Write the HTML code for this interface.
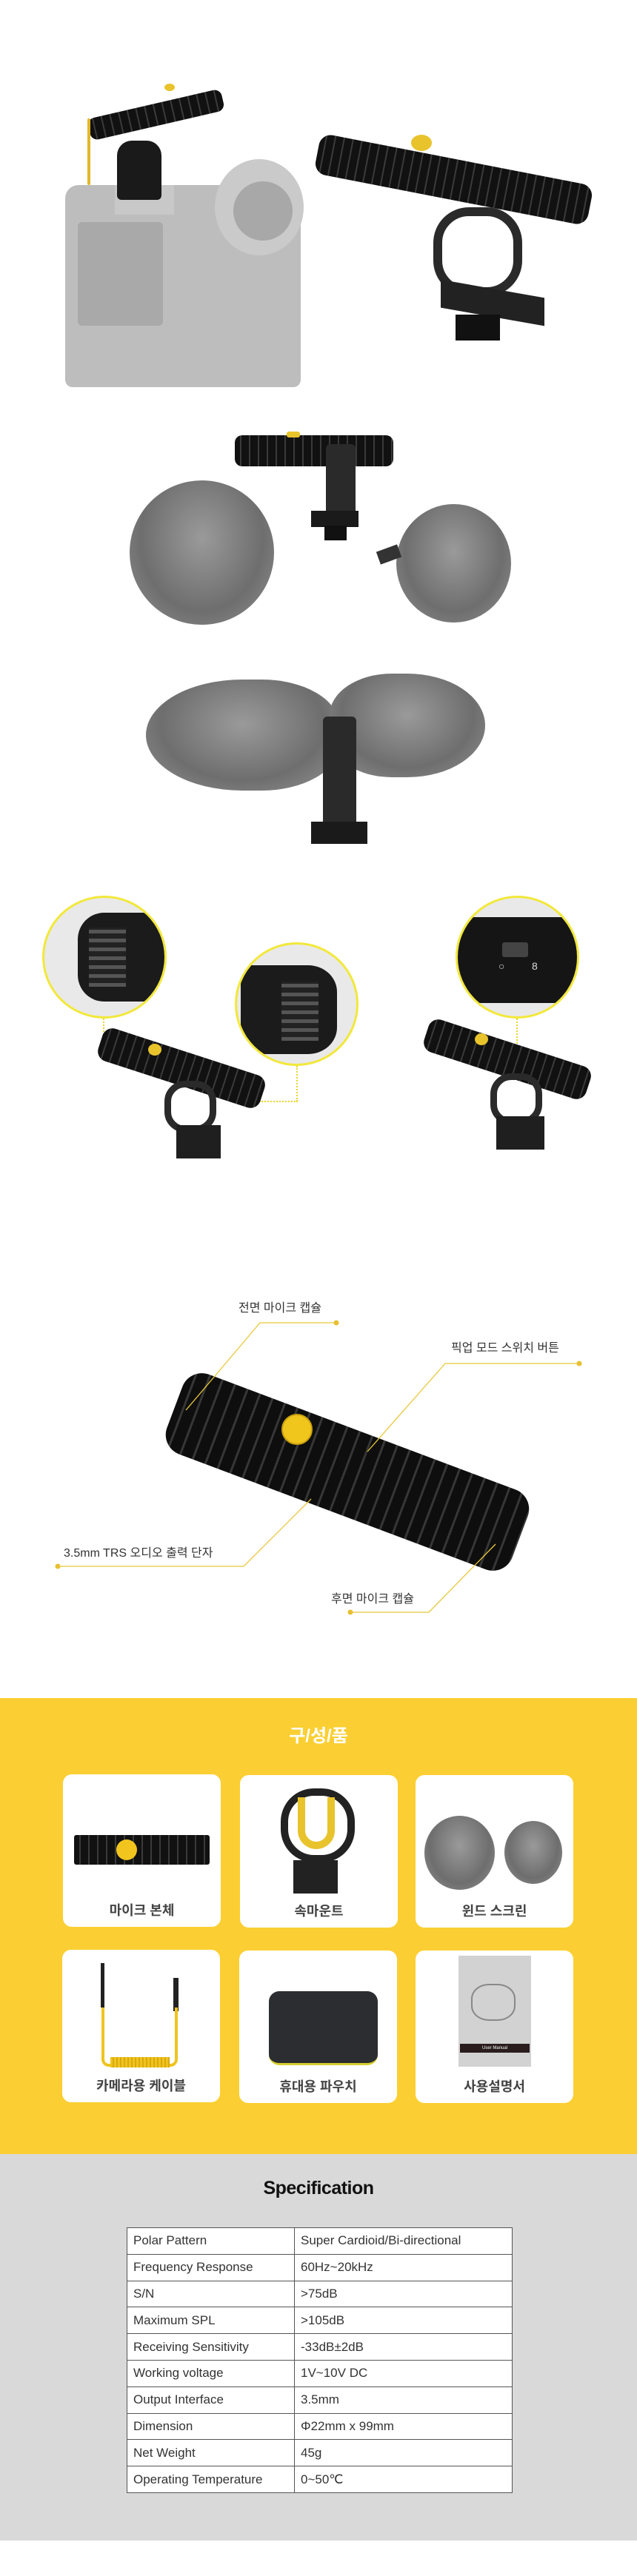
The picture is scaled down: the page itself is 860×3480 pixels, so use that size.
<!DOCTYPE html>
<html><head><meta charset="utf-8"><style>
*{margin:0;padding:0;box-sizing:border-box}
body{width:860px;height:3480px;background:#fff;position:relative;overflow:hidden;font-family:"Liberation Sans","Noto Sans CJK KR",sans-serif}
.a{position:absolute}
.tube{position:absolute;border-radius:10px;background:repeating-linear-gradient(90deg,#111 0 7px,#3a3a3a 7px 9px,#111 9px 12px);}
.fur{position:absolute;border-radius:50%;background:radial-gradient(ellipse at 50% 40%,#9a9a9a,#6e6e6e 60%,#8a8a8a 90%,rgba(150,150,150,0) 100%)}
.circ{position:absolute;border-radius:50%;border:3px solid #f2e83a;background:#e9e9e9;overflow:hidden}
.lbl{position:absolute;font-size:16px;color:#333;white-space:nowrap}
.card{position:absolute;background:#fff;border-radius:12px;width:213px;height:206px}
.card .t{position:absolute;left:0;right:0;bottom:10px;text-align:center;font-size:18px;font-weight:bold;color:#444}
table{border-collapse:collapse;position:absolute;left:171px;top:3009px;width:521px;background:#fff}
td{border:1.5px solid #555;height:35.8px;font-size:17px;color:#333;padding:0 8px;font-family:"Liberation Sans Narrow","Liberation Sans",sans-serif}
td:first-child{width:226px}
</style></head><body>

<!-- Section 1 camera + mic -->
<div class="a" style="left:88px;top:250px;width:318px;height:273px;background:#bdbdbd;border-radius:18px 40px 10px 10px"></div>
<div class="a" style="left:105px;top:300px;width:115px;height:140px;background:#a9a9a9;border-radius:6px"></div>
<div class="a" style="left:290px;top:215px;width:120px;height:130px;background:#cacaca;border-radius:50%"></div>
<div class="a" style="left:315px;top:245px;width:80px;height:80px;background:#a8a8a8;border-radius:50%"></div>
<div class="a" style="left:155px;top:250px;width:80px;height:40px;background:#c8c8c8"></div>
<div class="a" style="left:158px;top:190px;width:60px;height:80px;background:#1a1a1a;border-radius:20px 20px 6px 6px"></div>
<div class="tube" style="left:118px;top:140px;width:185px;height:30px;transform:rotate(-13deg)"></div>
<div class="a" style="left:118px;top:160px;width:4px;height:90px;background:#e2b82a;border-radius:2px"></div>
<div class="a" style="left:222px;top:113px;width:14px;height:10px;background:#e8c32c;border-radius:50%"></div>

<!-- right mic -->
<div class="tube" style="left:425px;top:215px;width:375px;height:55px;transform:rotate(11deg);border-radius:16px"></div>
<div class="a" style="left:555px;top:182px;width:28px;height:22px;background:#e8c32c;border-radius:50%"></div>
<div class="a" style="left:585px;top:280px;width:120px;height:120px;border:12px solid #2a2a2a;border-radius:40%"></div>
<div class="a" style="left:595px;top:390px;width:140px;height:38px;background:#222;transform:skewY(10deg)"></div>
<div class="a" style="left:615px;top:425px;width:60px;height:35px;background:#111"></div>

<!-- Section 2 mic + furs -->
<div class="tube" style="left:317px;top:588px;width:214px;height:42px"></div>
<div class="a" style="left:387px;top:583px;width:18px;height:8px;background:#e8c32c;border-radius:3px"></div>
<div class="a" style="left:440px;top:600px;width:40px;height:100px;background:#2a2a2a;border-radius:6px"></div>
<div class="a" style="left:420px;top:690px;width:64px;height:22px;background:#1a1a1a"></div>
<div class="a" style="left:438px;top:710px;width:30px;height:20px;background:#111"></div>
<div class="fur" style="left:175px;top:649px;width:195px;height:195px"></div>
<div class="fur" style="left:535px;top:681px;width:155px;height:160px"></div>
<div class="a" style="left:510px;top:740px;width:30px;height:18px;background:#333;transform:rotate(-20deg)"></div>

<!-- Section 3 dead cat -->
<div class="fur" style="left:197px;top:918px;width:260px;height:150px;border-radius:50% 40% 40% 50%"></div>
<div class="fur" style="left:445px;top:910px;width:210px;height:140px;border-radius:40% 50% 50% 40%"></div>
<div class="a" style="left:436px;top:968px;width:45px;height:150px;background:#2a2a2a;border-radius:6px"></div>
<div class="a" style="left:420px;top:1110px;width:76px;height:30px;background:#1a1a1a"></div>

<!-- Section 4 circles -->
<div class="circ" style="left:57px;top:1210px;width:168px;height:166px"><div class="a" style="left:45px;top:20px;width:118px;height:120px;background:#1b1b1b;border-radius:30% 10% 10% 30%"></div><div class="a" style="left:60px;top:40px;width:50px;height:80px;background:repeating-linear-gradient(0deg,#555 0 5px,#222 5px 12px)"></div></div>
<div class="circ" style="left:317px;top:1273px;width:167px;height:167px"><div class="a" style="left:5px;top:28px;width:130px;height:120px;background:#1b1b1b;border-radius:10% 30% 30% 10%"></div><div class="a" style="left:60px;top:50px;width:50px;height:80px;background:repeating-linear-gradient(0deg,#555 0 5px,#222 5px 12px)"></div></div>
<div class="circ" style="left:615px;top:1210px;width:167px;height:166px"><div class="a" style="left:0;top:26px;width:167px;height:116px;background:#151515"></div><div class="a" style="left:60px;top:60px;width:35px;height:20px;background:#444;border-radius:3px"></div><div class="a" style="left:55px;top:84px;color:#ddd;font-size:14px">○</div><div class="a" style="left:100px;top:84px;color:#ddd;font-size:14px">8</div></div>
<div class="a" style="left:139px;top:1376px;border-left:2px dotted #e8d42a;height:30px"></div>
<div class="a" style="left:400px;top:1440px;border-left:2px dotted #e8d42a;height:48px"></div>
<div class="a" style="left:350px;top:1487px;border-top:2px dotted #e8d42a;width:52px"></div>
<div class="a" style="left:697px;top:1376px;border-left:2px dotted #e8d42a;height:42px"></div>
<div class="tube" style="left:130px;top:1420px;width:230px;height:46px;transform:rotate(18deg);border-radius:14px"></div>
<div class="a" style="left:200px;top:1410px;width:18px;height:16px;background:#e8c32c;border-radius:50%"></div>
<div class="a" style="left:222px;top:1460px;width:70px;height:70px;border:9px solid #2a2a2a;border-radius:40%"></div>
<div class="a" style="left:238px;top:1520px;width:60px;height:45px;background:#1f1f1f"></div>
<div class="tube" style="left:570px;top:1408px;width:230px;height:46px;transform:rotate(18deg);border-radius:14px"></div>
<div class="a" style="left:641px;top:1396px;width:18px;height:16px;background:#e8c32c;border-radius:50%"></div>
<div class="a" style="left:662px;top:1450px;width:70px;height:70px;border:9px solid #2a2a2a;border-radius:40%"></div>
<div class="a" style="left:670px;top:1508px;width:65px;height:45px;background:#1f1f1f"></div>

<!-- Section 5 labelled mic -->
<div class="tube" style="left:220px;top:1931px;width:498px;height:115px;transform:rotate(20.6deg);border-radius:28px;background:repeating-linear-gradient(90deg,#0e0e0e 0 10px,#363636 10px 13px,#0e0e0e 13px 18px)"></div>
<div class="a" style="left:380px;top:1910px;width:42px;height:42px;background:#f0c51c;border-radius:50%;border:2px solid #c9a010"></div>
<svg class="a" style="left:0;top:0" width="860" height="2300">
<g stroke="#e8c83a" stroke-width="1.3" fill="none">
<polyline points="454,1787 351,1787 251,1905"/>
<polyline points="782,1842 601,1842 496,1961"/>
<polyline points="78,2116 329,2116 420,2025"/>
<polyline points="473,2178 579,2178 669,2086"/>
</g>
<g fill="#e8c030"><circle cx="454" cy="1787" r="3.5"/><circle cx="782" cy="1842" r="3.5"/><circle cx="78" cy="2116" r="3.5"/><circle cx="473" cy="2178" r="3.5"/></g>
</svg>
<div class="lbl" style="left:322px;top:1753px">전면 마이크 캡슐</div>
<div class="lbl" style="left:609px;top:1807px">픽업 모드 스위치 버튼</div>
<div class="lbl" style="left:86px;top:2084px">3.5mm TRS 오디오 출력 단자</div>
<div class="lbl" style="left:447px;top:2146px">후면 마이크 캡슐</div>

<!-- Yellow components -->
<div class="a" style="left:0;top:2294px;width:860px;height:616px;background:#fbcf33"></div>
<div class="a" style="left:0;top:2325px;width:860px;text-align:center;font-size:24px;font-weight:bold;color:#fff">구/성/품</div>
<div class="card" style="left:85px;top:2397px"><div class="tube" style="left:15px;top:82px;width:183px;height:40px;border-radius:3px"></div><div class="a" style="left:72px;top:88px;width:28px;height:28px;background:#f2c51e;border-radius:50%"></div><div class="t">마이크 본체</div></div>
<div class="card" style="left:324px;top:2398px"><div class="a" style="left:55px;top:18px;width:100px;height:100px;border:10px solid #222;border-radius:45%"></div><div class="a" style="left:78px;top:30px;width:50px;height:70px;border:10px solid #e8c32c;border-top:none;border-radius:0 0 30px 30px"></div><div class="a" style="left:72px;top:115px;width:60px;height:45px;background:#222"></div><div class="t">속마운트</div></div>
<div class="card" style="left:561px;top:2398px"><div class="fur" style="left:12px;top:55px;width:95px;height:100px"></div><div class="fur" style="left:120px;top:62px;width:78px;height:85px"></div><div class="t">윈드 스크린</div></div>
<div class="card" style="left:84px;top:2634px"><div class="a" style="left:52px;top:18px;width:5px;height:60px;background:#222"></div><div class="a" style="left:150px;top:38px;width:7px;height:45px;background:#222"></div><div class="a" style="left:53px;top:78px;width:103px;height:80px;border:4px solid #f0c41e;border-top:none;border-radius:0 0 10px 10px"></div><div class="a" style="left:65px;top:145px;width:80px;height:14px;background:repeating-linear-gradient(90deg,#f0c41e 0 3px,#d9a90e 3px 5px)"></div><div class="t">카메라용 케이블</div></div>
<div class="card" style="left:323px;top:2635px"><div class="a" style="left:40px;top:55px;width:147px;height:100px;background:#2c2d30;border-radius:14px;border-bottom:3px solid #d8d030"></div><div class="t">휴대용 파우치</div></div>
<div class="card" style="left:561px;top:2635px"><div class="a" style="left:58px;top:7px;width:98px;height:150px;background:#d2d2d2"></div><div class="a" style="left:60px;top:126px;width:94px;height:12px;background:#2a1d1d;color:#fff;font-size:6px;text-align:center;line-height:12px">User Manual</div><div class="a" style="left:75px;top:45px;width:60px;height:50px;border:2px solid #888;border-radius:40%"></div><div class="t">사용설명서</div></div>

<!-- Spec -->
<div class="a" style="left:0;top:2910px;width:860px;height:522px;background:#d9d9d9"></div>
<div class="a" style="left:0;top:2942px;width:860px;text-align:center;font-size:25px;font-weight:bold;color:#111;letter-spacing:-0.5px">Specification</div>
<table>
<tr><td>Polar Pattern</td><td>Super Cardioid/Bi-directional</td></tr>
<tr><td>Frequency Response</td><td>60Hz~20kHz</td></tr>
<tr><td>S/N</td><td>&gt;75dB</td></tr>
<tr><td>Maximum SPL</td><td>&gt;105dB</td></tr>
<tr><td>Receiving Sensitivity</td><td>-33dB±2dB</td></tr>
<tr><td>Working voltage</td><td>1V~10V DC</td></tr>
<tr><td>Output Interface</td><td>3.5mm</td></tr>
<tr><td>Dimension</td><td>Φ22mm x 99mm</td></tr>
<tr><td>Net Weight</td><td>45g</td></tr>
<tr><td>Operating Temperature</td><td>0~50℃</td></tr>
</table>
</body></html>
